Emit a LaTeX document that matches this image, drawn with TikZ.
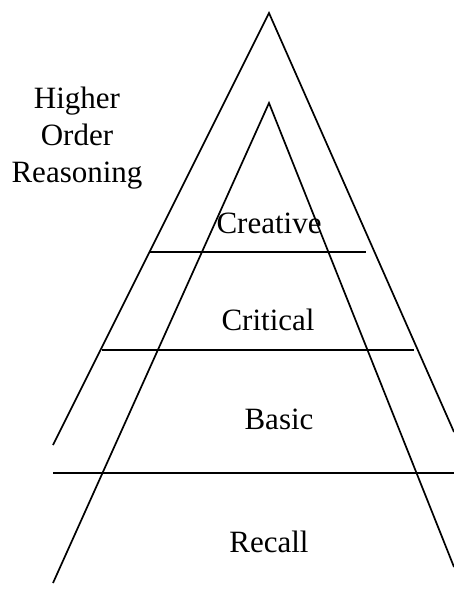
\documentclass[tikz,border=0pt]{standalone}
\usepackage{fontspec}
\setmainfont{Liberation Serif}
\usepackage{tikz}
\usetikzlibrary{calc}
\tikzstyle{pyramidline} = [
    draw=black,
    line width=1.7pt,
    line cap=butt
    ]
\tikzstyle{tierlabel} = [
    anchor=base,
    inner sep=0pt,
    font=\fontsize{31}{37}\selectfont
    ]

\begin{document}
\begin{tikzpicture}[x=1pt,y=-1pt]
\useasboundingbox (0,0) rectangle (454,592);
% outer triangle
\coordinate (outertop) at (269,13);
\coordinate (outerleft) at (53,445);
\coordinate (outerright) at (454,432);
% inner triangle
\coordinate (innertop) at (269,103);
\coordinate (innerleft) at (53,583);
\coordinate (innerright) at (454,567);
\draw[pyramidline] (outerleft) -- (outertop) -- (outerright);
\draw[pyramidline] (innerleft) -- (innertop) -- (innerright);
% tier dividers
\coordinate (creativeL) at (150,252);
\coordinate (creativeR) at (366,252);
\coordinate (criticalL) at (102,350);
\coordinate (criticalR) at (414,350);
\coordinate (basicL) at (53,473);
\coordinate (basicR) at (454,473);
\draw[pyramidline] (creativeL) -- (creativeR);
\draw[pyramidline] (criticalL) -- (criticalR);
\draw[pyramidline] (basicL) -- (basicR);
% tier names
\node[tierlabel] (creative) at (269,233) {Creative};
\node[tierlabel] (critical) at (268,330) {Critical};
\node[tierlabel] (basic) at (279,429) {Basic};
\node[tierlabel] (recall) at (269,552) {Recall};
\node[inner sep=0pt, align=center, font=\fontsize{31}{37}\selectfont]
    (higher) at (77,138) {Higher\\Order\\Reasoning};
\end{tikzpicture}
\end{document}
